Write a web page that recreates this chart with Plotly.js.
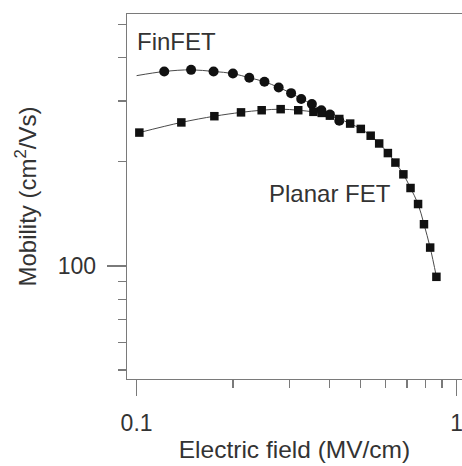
<!DOCTYPE html>
<html>
<head>
<meta charset="utf-8">
<script src="https://cdn.plot.ly/plotly-3.0.1.min.js"></script>
<style>
html,body{margin:0;padding:0;background:#fff;}
#chart{width:462px;height:466px;}
</style>
</head>
<body>
<div id="chart"></div>
<script>
// FinFET (circles), electric field in MV/cm, mobility in cm^2/Vs
const finfetX = [0.122, 0.148, 0.174, 0.200, 0.225, 0.251, 0.278, 0.304, 0.327, 0.353, 0.378, 0.402, 0.430];
const finfetY = [365, 369, 365, 360, 350, 341, 328, 316, 304, 294, 282, 274, 263];
// start of the FinFET fit line (no marker drawn there)
const finfetLineStartX = 0.1;
const finfetLineStartY = 355;

// Planar FET (squares)
const planarX = [0.102, 0.138, 0.175, 0.212, 0.246, 0.282, 0.320, 0.357, 0.379, 0.402, 0.430, 0.465, 0.502, 0.539, 0.573, 0.610, 0.644, 0.682, 0.718, 0.758, 0.791, 0.827, 0.865];
const planarY = [243, 260, 271, 278, 282, 284, 282, 279, 277, 272, 266, 258, 249, 238, 226, 212, 199, 184, 168, 151, 132, 113, 93];

// Tick definitions
const xMajorTicks = [0.1, 1];
const xMajorLabels = ['0.1', '1'];
const xMinorTicks = [0.2, 0.3, 0.4, 0.5, 0.6, 0.7, 0.8, 0.9];
const yMajorTicks = [100];
const yMajorLabels = ['100'];
const yMinorTicks = [50, 60, 70, 80, 90, 200, 300, 400, 500];

const seriesLabels = ['FinFET', 'Planar FET'];

const ink = '#111111';
const lineInk = '#4a4a4a';
const axisInk = '#7a7a7a';
const textInk = '#333333';
const fontFam = 'Liberation Sans, Arial, sans-serif';

const traces = [
  {
    x: [finfetLineStartX].concat(finfetX),
    y: [finfetLineStartY].concat(finfetY),
    mode: 'lines', type: 'scatter',
    line: {color: lineInk, width: 1, shape: 'spline'},
    hoverinfo: 'skip', showlegend: false
  },
  {
    x: finfetX, y: finfetY, name: seriesLabels[0],
    mode: 'markers', type: 'scatter',
    marker: {symbol: 'circle', size: 10, color: ink},
    showlegend: false
  },
  {
    x: planarX, y: planarY, name: seriesLabels[1],
    mode: 'lines+markers', type: 'scatter',
    line: {color: lineInk, width: 1, shape: 'spline'},
    marker: {symbol: 'square', size: 8.5, color: ink},
    showlegend: false
  }
];

const layout = {
  width: 462, height: 466,
  margin: {l: 127, r: 0, t: 14, b: 87},
  paper_bgcolor: '#fff', plot_bgcolor: '#fff',
  font: {family: fontFam, color: textInk, size: 23},
  xaxis: {
    type: 'log',
    range: [-1.030, 0.017],
    showgrid: false, zeroline: false,
    showline: true, linecolor: axisInk, linewidth: 1.3, mirror: true,
    tickmode: 'array', tickvals: xMajorTicks, ticktext: xMajorLabels,
    ticks: 'outside', ticklen: 16, tickwidth: 1.3, tickcolor: axisInk,
    ticklabelstandoff: 7,
    ticklabeloverflow: 'allow',
    tickfont: {size: 23, color: textInk, family: fontFam},
    minor: {tickmode: 'array', tickvals: xMinorTicks, ticks: 'outside', ticklen: 8, tickwidth: 1.3, tickcolor: axisInk, showgrid: false},
    title: {text: 'Electric field (MV/cm)', font: {size: 24.5, color: textInk, family: fontFam}, standoff: 6},
    automargin: false
  },
  yaxis: {
    type: 'log',
    range: [1.673, 2.7285],
    showgrid: false, zeroline: false,
    showline: true, linecolor: axisInk, linewidth: 1.3, mirror: false,
    tickmode: 'array', tickvals: yMajorTicks, ticktext: yMajorLabels,
    ticks: 'outside', ticklen: 19, tickwidth: 1.3, tickcolor: axisInk,
    ticklabelstandoff: 6,
    tickfont: {size: 23, color: textInk, family: fontFam},
    minor: {tickmode: 'array', tickvals: yMinorTicks, ticks: 'outside', ticklen: 8, tickwidth: 1.3, tickcolor: axisInk, showgrid: false},
    title: {text: 'Mobility (cm<sup>2</sup>/Vs)', font: {size: 24, color: textInk, family: fontFam}, standoff: 14},
    automargin: false
  },
  annotations: [
    {x: Math.log10(0.1337), y: Math.log10(447), xref: 'x', yref: 'y', text: seriesLabels[0],
     showarrow: false, xanchor: 'center', yanchor: 'middle', font: {size: 24, color: textInk, family: fontFam}},
    {x: Math.log10(0.401), y: Math.log10(161.6), xref: 'x', yref: 'y', text: seriesLabels[1],
     showarrow: false, xanchor: 'center', yanchor: 'middle', font: {size: 24, color: textInk, family: fontFam}}
  ],
  showlegend: false
};

Plotly.newPlot('chart', traces, layout, {staticPlot: true, displayModeBar: false});
</script>
</body>
</html>
